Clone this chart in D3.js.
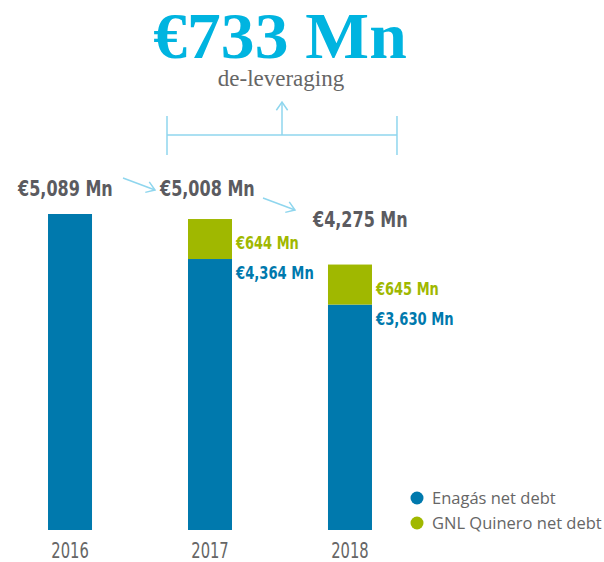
<!DOCTYPE html>
<meta charset="utf-8">
<body style="margin:0;background:#fff">
<style>
  .cond { font-family: "DejaVu Sans Condensed", "DejaVu Sans", sans-serif; font-stretch: condensed; }
  .total { font-size: 22px; font-weight: bold; fill: #5b5b60; }
  .seg { font-size: 17px; font-weight: bold; }
  .year { font-size: 21px; fill: #666; }
  .legend text { font-family: "Open Sans", sans-serif; font-size: 16.5px; fill: #666; }
  .annot { stroke: #8fd6ee; stroke-width: 1.5px; fill: none; }
</style>
<svg width="604" height="562"></svg>
<script src="https://d3js.org/d3.v7.min.js"></script>
<script>

var years = ["2016", "2017", "2018"];
var enagas = [5089, 4364, 3630];
var gnl = [0, 644, 645];
var totals = [5089, 5008, 4275];
var totalLabels = ["€5,089 Mn", "€5,008 Mn", "€4,275 Mn"];
var enagasLabels = ["", "€4,364 Mn", "€3,630 Mn"];
var gnlLabels = ["", "€644 Mn", "€645 Mn"];
var series = ["Enagás net debt", "GNL Quinero net debt"];

var blue = "#0079ad", green = "#a0b800";

var svg = d3.select("svg");

var x = d3.scaleBand().domain(years).range([0, 420]).paddingInner(0.6857).paddingOuter(0.343);
var y = d3.scaleLinear().domain([0, 5089]).range([530, 214]);

var g = svg.append("g");

// squeeze text horizontally (no narrow font installed)
function squeeze(sel, sx, fx, fy) {
  sel.attr("transform", function(d, i) { return "translate(" + fx(d, i) + "," + fy(d, i) + ") scale(" + sx + ",1)"; });
}

// enagas part
g.selectAll(".bar-e")
  .data(years)
  .enter().append("rect")
  .attr("x", function(d) { return x(d); })
  .attr("width", x.bandwidth())
  .attr("y", function(d, i) { return y(enagas[i]); })
  .attr("height", function(d, i) { return y(0) - y(enagas[i]); })
  .attr("fill", blue);

// gnl part on top
g.selectAll(".bar-g")
  .data(years)
  .enter().append("rect")
  .attr("x", function(d) { return x(d); })
  .attr("width", x.bandwidth())
  .attr("y", function(d, i) { return y(enagas[i] + gnl[i]); })
  .attr("height", function(d, i) { return y(enagas[i]) - y(enagas[i] + gnl[i]); })
  .attr("fill", green);

// segment labels
g.selectAll(".lbl-g")
  .data(years)
  .enter().append("text")
  .attr("class", "cond seg")
  .attr("fill", green)
  .text(function(d, i) { return gnlLabels[i]; })
  .call(squeeze, 0.85,
        function(d) { return x(d) + x.bandwidth() + 4; },
        function(d, i) { return y(enagas[i]) - 10; });

g.selectAll(".lbl-e")
  .data(years)
  .enter().append("text")
  .attr("class", "cond seg")
  .attr("fill", blue)
  .text(function(d, i) { return enagasLabels[i]; })
  .call(squeeze, 0.86,
        function(d) { return x(d) + x.bandwidth() + 4; },
        function(d, i) { return y(enagas[i]) + 20; });

// totals
var totalPos = [[-30, -18], [-28, -23], [-15, -38]];
g.selectAll(".tot")
  .data(years)
  .enter().append("text")
  .attr("class", "cond total")
  .text(function(d, i) { return totalLabels[i]; })
  .call(squeeze, 0.81,
        function(d, i) { return x(d) + totalPos[i][0]; },
        function(d, i) { return y(totals[i]) + totalPos[i][1]; });

// year axis labels
g.selectAll(".year")
  .data(years)
  .enter().append("text")
  .attr("class", "cond year")
  .attr("text-anchor", "middle")
  .text(function(d) { return d; })
  .call(squeeze, 0.78,
        function(d) { return x(d) + x.bandwidth() / 2; },
        function() { return 558; });

// little arrows between totals
function arrow(x1, y1, x2, y2) {
  var a = Math.atan2(y2 - y1, x2 - x1), L = 10, s = 0.6;
  g.append("line").attr("class", "annot").attr("x1", x1).attr("y1", y1).attr("x2", x2).attr("y2", y2);
  g.append("path").attr("class", "annot")
    .attr("d", "M" + (x2 - L * Math.cos(a - s)) + "," + (y2 - L * Math.sin(a - s)) +
               "L" + x2 + "," + y2 +
               "L" + (x2 - L * Math.cos(a + s)) + "," + (y2 - L * Math.sin(a + s)));
}
arrow(x("2016") + 75, 178, x("2017") - 33, 190);
arrow(x("2017") + 75, 198, x("2018") - 33, 210);

// bracket
var bl = x("2017") - 21, br = x("2018") + x.bandwidth() + 25, by = 135, bm = 282;
g.append("line").attr("class", "annot").attr("x1", bl).attr("x2", br).attr("y1", by).attr("y2", by);
g.append("line").attr("class", "annot").attr("x1", bl).attr("x2", bl).attr("y1", 116).attr("y2", 155);
g.append("line").attr("class", "annot").attr("x1", br).attr("x2", br).attr("y1", 116).attr("y2", 155);
arrow(bm, by, bm, 102);

// headline
svg.append("text")
  .attr("transform", "translate(280,58) scale(1.04,1)")
  .attr("text-anchor", "middle")
  .attr("font-family", "Liberation Serif, serif")
  .attr("font-weight", "bold")
  .attr("font-size", 65)
  .attr("fill", "#00b4e0")
  .text("€733 Mn");

svg.append("text")
  .attr("x", 281).attr("y", 86)
  .attr("text-anchor", "middle")
  .attr("font-family", "Liberation Serif, serif")
  .attr("font-size", 23)
  .attr("fill", "#666")
  .text("de-leveraging");

// legend
var leg = svg.append("g").attr("class", "legend");
leg.selectAll("circle")
  .data(series)
  .enter().append("circle")
  .attr("cx", 417)
  .attr("cy", function(d, i) { return 498 + i * 25; })
  .attr("r", 6.5)
  .attr("fill", function(d, i) { return i === 0 ? blue : green; });
leg.selectAll("text")
  .data(series)
  .enter().append("text")
  .attr("x", 432)
  .attr("y", function(d, i) { return 504 + i * 25; })
  .text(function(d) { return d; });

</script>
</body>
